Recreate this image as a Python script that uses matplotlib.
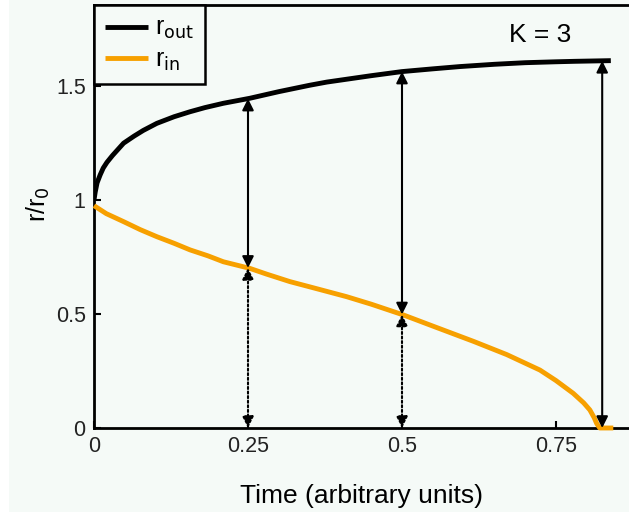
import numpy as np
import matplotlib.pyplot as plt
from matplotlib.patches import Rectangle

plt.rcParams['font.family'] = ['Liberation Sans', 'DejaVu Sans']

# courbes
t_out = [0.0, 0.002, 0.005, 0.01, 0.015, 0.021, 0.03, 0.048, 0.065, 0.08, 0.102, 0.13, 0.156, 0.18,
         0.21, 0.253, 0.30, 0.35, 0.378, 0.45, 0.50, 0.55, 0.594, 0.65, 0.70, 0.75, 0.78, 0.839]
r_out = [1.0, 1.035, 1.075, 1.11, 1.14, 1.165, 1.195, 1.249, 1.28, 1.305, 1.336, 1.365, 1.387, 1.405,
         1.424, 1.446, 1.475, 1.503, 1.517, 1.545, 1.563, 1.575, 1.585, 1.595, 1.602, 1.606, 1.608, 1.611]

t_in = [0.0, 0.02, 0.048, 0.075, 0.102, 0.13, 0.156, 0.185, 0.21, 0.253, 0.28, 0.318, 0.36, 0.41,
        0.45, 0.502, 0.55, 0.616, 0.67, 0.724, 0.75, 0.778, 0.795, 0.805, 0.812, 0.816, 0.821, 0.843]
r_in = [0.975, 0.94, 0.905, 0.87, 0.839, 0.81, 0.781, 0.755, 0.729, 0.700, 0.675, 0.642, 0.612, 0.576,
        0.543, 0.496, 0.447, 0.380, 0.322, 0.254, 0.208, 0.152, 0.11, 0.079, 0.045, 0.02, 0.0, 0.0]

t_fleches = [0.25, 0.5]
t_final = 0.825

ORANGE = '#f7a000'
FOND = '#f5faf7'

fig = plt.figure(figsize=(6.29, 5.14), dpi=100, facecolor='white')
fig.patches.append(Rectangle((9 / 629, 2 / 514), 1, 1, transform=fig.transFigure,
                             facecolor=FOND, edgecolor='none', zorder=-1))
ax = fig.add_axes([94 / 629, 86 / 514, 616 * 0.87 / 629, 423 / 514])
ax.set_facecolor(FOND)

ax.plot(t_out, r_out, color='black', lw=3.5, label=r'r$_{\rm out}$', solid_capstyle='butt', zorder=3)
ax.plot(t_in, r_in, color=ORANGE, lw=3.5, label=r'r$_{\rm in}$', solid_capstyle='butt',
        zorder=3, clip_on=False)

# flèches
fl = dict(arrowstyle='<|-|>', color='black', lw=1.5, mutation_scale=17, shrinkA=0, shrinkB=0)
for t in t_fleches:
    yi = np.interp(t, t_in, r_in)
    yo = np.interp(t, t_out, r_out)
    ax.annotate('', xy=(t, yo), xytext=(t, yi), arrowprops=fl)
    ax.annotate('', xy=(t, yi), xytext=(t, 0), arrowprops=dict(fl, linestyle=(0, (1, 1.2))))
ax.annotate('', xy=(t_final, np.interp(t_final, t_out, r_out)), xytext=(t_final, 0), arrowprops=fl)

ax.text(0.724, 1.725, 'K = 3', fontsize=19, ha='center', va='center')

ax.set_xlim(0, 0.87)
ax.set_ylim(0, 1.855)
ax.set_xticks([0, 0.25, 0.5, 0.75])
ax.set_xticklabels(['0', '0.25', '0.5', '0.75'])
ax.set_yticks([0, 0.5, 1, 1.5])
ax.set_yticklabels(['0', '0.5', '1', '1.5'])
ax.tick_params(direction='in', length=5, width=1.5, labelsize=15.5, pad=6, labelcolor='#222222')
for s in ['left', 'bottom', 'top']:
    ax.spines[s].set_linewidth(2)
ax.spines['right'].set_visible(False)

ax.set_xlabel('Time (arbitrary units)', fontsize=19, labelpad=19)
ax.set_ylabel(r'r/r$_0$', fontsize=18)
ax.yaxis.set_label_coords(-0.078, 0.53)

leg = ax.legend(loc='upper left', borderaxespad=0, fancybox=False, fontsize=18,
                handlelength=1.7, handletextpad=0.3, borderpad=0.45, labelspacing=0.25)
leg.get_frame().set_edgecolor('black')
leg.get_frame().set_linewidth(1.8)
leg.get_frame().set_facecolor(FOND)
leg.get_frame().set_alpha(1)

plt.savefig('out.png', dpi=100, facecolor=fig.get_facecolor())
